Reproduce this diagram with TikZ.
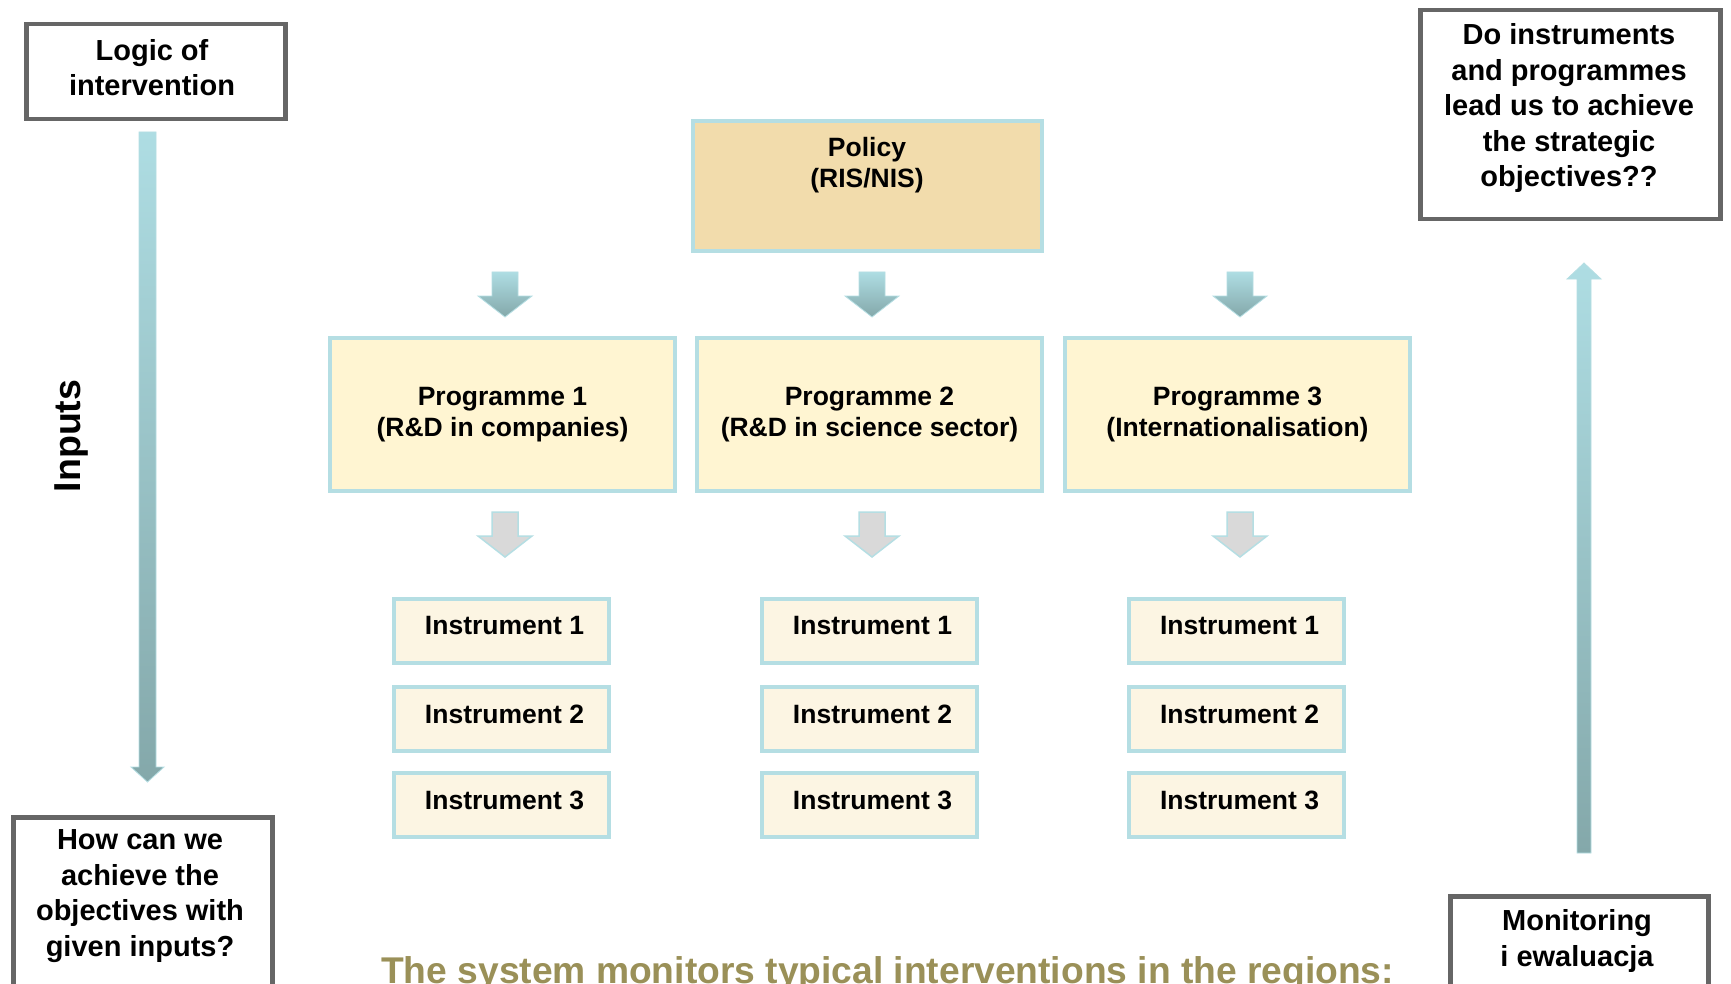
\documentclass[tikz,border=0pt]{standalone}
\usepackage{fontspec}
\setmainfont{Liberation Sans}
\usetikzlibrary{calc}
\definecolor{tealedge}{HTML}{B5DEE3}
\definecolor{polfill}{HTML}{F2DCAC}
\definecolor{progfill}{HTML}{FFF5D2}
\definecolor{instfill}{HTML}{FCF5E3}
\definecolor{grayedge}{HTML}{666666}
\definecolor{arrtop}{HTML}{AEDDE3}
\definecolor{arrbot}{HTML}{84A8AA}
\definecolor{olivetext}{HTML}{9A9058}
\definecolor{grayarr}{HTML}{D9D9D9}
\begin{document}
\begin{tikzpicture}[x=1pt,y=-1pt,
  qframe/.style={draw=grayedge,line width=4.5pt,fill=white,inner sep=0pt,anchor=north west},
  qtext/.style={align=center,font=\bfseries\fontsize{29}{35.5}\selectfont,inner sep=0pt},
  polbox/.style={draw=tealedge,line width=4pt,fill=polfill,inner sep=0pt,anchor=north west,minimum width=349pt,minimum height=130pt},
  progbox/.style={draw=tealedge,line width=4pt,fill=progfill,inner sep=0pt,anchor=north west,minimum width=345pt,minimum height=153pt},
  instbox/.style={draw=tealedge,line width=4pt,fill=instfill,inner sep=0pt,anchor=north west,minimum width=215pt,minimum height=64pt},
  btext/.style={align=center,font=\bfseries\fontsize{26.5}{31}\selectfont,inner sep=0pt},
  tealarrow/.style={top color=arrtop,bottom color=arrbot,draw=tealedge,line width=0.8pt},
  grayarrow/.style={fill=grayarr,draw=tealedge,line width=1.5pt},
  downarr/.pic={\path[pic actions] (-13,0) -- (13,0) -- (13,24) -- (27,24) -- (0,45) -- (-27,24) -- (-13,24) -- cycle;}
 ]
\useasboundingbox (0,0) rectangle (1731,984);
\clip (0,0) rectangle (1731,984);
\fill[white] (0,0) rectangle (1731,984);

% side question boxes
\node[qframe,minimum width=259pt,minimum height=95pt] (logic) at (24,22) {};
\node[qtext] (logict) at (152,67.5) {Logic of\\intervention};
\node[qframe,minimum width=259pt,minimum height=250pt] (how) at (11,815) {};
\node[qtext] (howt) at (140,896) {How can we\\achieve the\\objectives with\\given inputs?};
\node[qframe,minimum width=300pt,minimum height=209pt] (doq) at (1418,8) {};
\node[qtext] (doqt) at (1569,108.5) {Do instruments\\and programmes\\lead us to achieve\\the strategic\\objectives??};
\node[qframe,minimum width=258pt,minimum height=200pt] (mon) at (1448,894) {};
\node[qtext] (mont) at (1577,941) {Monitoring\\i ewaluacja};

% long arrows
\path[tealarrow] (139,132) -- (156,132) -- (156,767) -- (164,767) -- (147.5,782) -- (131,767) -- (139,767) -- cycle;
\path[tealarrow] (1577,853) -- (1591,853) -- (1591,279) -- (1601,279) -- (1584,263) -- (1567,279) -- (1577,279) -- cycle;
\node[rotate=90,font=\bfseries\fontsize{37.5}{42}\selectfont,inner sep=0pt] (inputs) at (71,436) {Inputs};

% policy
\node[polbox] (pol) at (691,119) {};
\node[btext] (polt) at (867,165.5) {Policy\\(RIS/NIS)};

% programmes
\node[progbox] (p1) at (328,336) {};
\node[progbox] (p2) at (695,336) {};
\node[progbox] (p3) at (1063,336) {};
\node[btext] (p1t) at (p1.center) {Programme 1\\(R\&D in companies)};
\node[btext] (p2t) at (p2.center) {Programme 2\\(R\&D in science sector)};
\node[btext] (p3t) at (p3.center) {Programme 3\\(Internationalisation)};

% small arrows
\pic[tealarrow] at (505,272) {downarr};
\pic[tealarrow] at (872,272) {downarr};
\pic[tealarrow] at (1240,272) {downarr};
\pic[grayarrow] at (505,512) {downarr};
\pic[grayarrow] at (872,512) {downarr};
\pic[grayarrow] at (1240,512) {downarr};

% instruments
\foreach \c/\x in {1/392,2/760,3/1127}{
  \foreach \r/\y in {1/597,2/685,3/771}{
    \node[instbox] (i\c\r) at (\x,\y) {};
    \node[btext] (i\c\r t) at ($(i\c\r.center)+(3,-5)$) {Instrument \r};
  }
}

% bottom note
\node[anchor=base west,inner sep=0pt,text=olivetext,font=\bfseries\fontsize{37.2}{42}\selectfont] (note) at (381,983) {The system monitors typical interventions in the regions:};
\end{tikzpicture}
\end{document}
